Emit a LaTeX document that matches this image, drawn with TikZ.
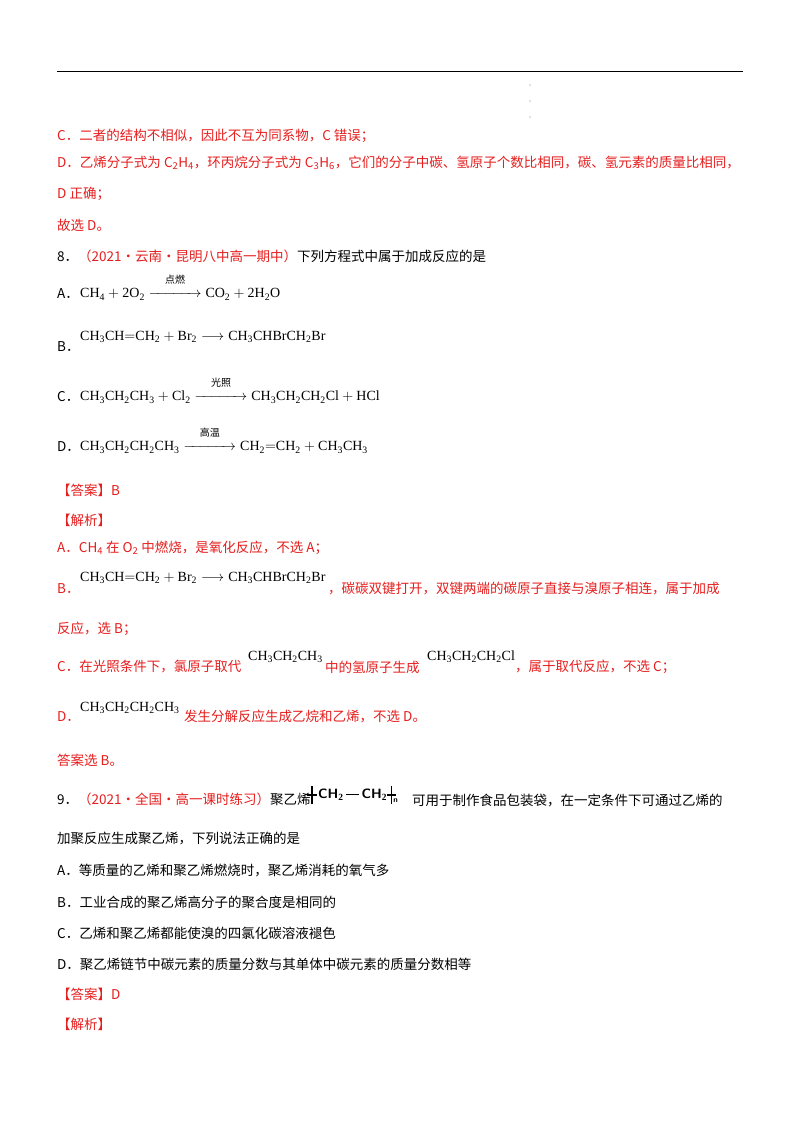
\documentclass[tikz,border=0pt]{standalone}
\usepackage{amsmath}
\usepackage{fontspec}
\setmainfont{Liberation Serif}
\newfontfamily\cjk{Noto Sans CJK SC}
\definecolor{rd}{RGB}{230,30,30}
\newcommand{\ch}[1]{$\mathrm{#1}$}
\newcommand{\arr}[1]{\mathrel{\overset{\text{\cjk\fontsize{10}{10}\selectfont #1}\rule[-3pt]{0pt}{1pt}}{\xrightarrow{\hspace{3.2em}}}}}
\begin{document}
\begin{tikzpicture}[x=1pt,y=-1pt,
  t/.style={anchor=west,inner sep=0pt,font=\cjk\fontsize{13.5}{15}\selectfont},
  r/.style={t,text=rd},
  f/.style={anchor=west,inner sep=0pt,font=\fontsize{14}{16}\selectfont}]
\useasboundingbox[fill=white] (0,0) rectangle (800,1132);
\draw[line width=1pt] (57,72) coordinate (l1) -- (743,72) coordinate (l2);
\foreach \yy in {85,101,117} \fill[gray] (530,\yy) circle (0.6);
\node[r] (c1) at (57,136) {C．二者的结构不相似，因此不互为同系物，C 错误；};
\node[r] (d1) at (57,163) {D．乙烯分子式为 C\textsubscript{2}H\textsubscript{4}，环丙烷分子式为 C\textsubscript{3}H\textsubscript{6}，它们的分子中碳、氢原子个数比相同，碳、氢元素的质量比相同，};
\node[r] (d2) at (57,194) {D 正确；};
\node[r] (g) at (57,225) {故选 D。};
\node[t] (q8) at (57,256) {8．\textcolor{rd}{（2021·云南·昆明八中高一期中）}下列方程式中属于加成反应的是};
\node[t] (a) at (57,294) {A．};
\node[f] (af) at (80,287) {\ch{CH_4+2O_2\arr{点燃}CO_2+2H_2O}};
\node[t] (b) at (57,347) {B．};
\node[f] (bf) at (80,337) {\ch{CH_3CH{=}CH_2+Br_2\longrightarrow CH_3CHBrCH_2Br}};
\node[t] (c) at (57,397) {C．};
\node[f] (cf) at (80,390) {\ch{CH_3CH_2CH_3+Cl_2\arr{光照}CH_3CH_2CH_2Cl+HCl}};
\node[t] (d) at (57,447) {D．};
\node[f] (df) at (80,440) {\ch{CH_3CH_2CH_2CH_3\arr{高温}CH_2{=}CH_2+CH_3CH_3}};
\node[r] (ans) at (57,490) {【答案】B};
\node[r] (jx) at (57,520) {【解析】};
\node[r] (ja) at (57,548) {A．CH\textsubscript{4} 在 O\textsubscript{2} 中燃烧，是氧化反应，不选 A；};
\node[r] (jb) at (57,589) {B．};
\node[f] (jbf) at (80,578) {\ch{CH_3CH{=}CH_2+Br_2\longrightarrow CH_3CHBrCH_2Br}};
\node[r] (jbt) at (328,589) {，碳碳双键打开，双键两端的碳原子直接与溴原子相连，属于加成};
\node[r] (jb2) at (57,629) {反应，选 B；};
\node[r] (jc) at (57,667) {C．在光照条件下，氯原子取代};
\node[f] (jcf1) at (248,657) {\ch{CH_3CH_2CH_3}};
\node[r] (jc2) at (325,667) {中的氢原子生成};
\node[f] (jcf2) at (427,657) {\ch{CH_3CH_2CH_2Cl}};
\node[r] (jc3) at (515,667) {，属于取代反应，不选 C；};
\node[r] (jd) at (57,717) {D．};
\node[f] (jdf) at (80,708) {\ch{CH_3CH_2CH_2CH_3}};
\node[r] (jd2) at (184,716) {发生分解反应生成乙烷和乙烯，不选 D。};
\node[r] (jdd) at (57,760) {答案选 B。};
\node[t] (q9) at (57,799) {9．\textcolor{rd}{（2021·全国·高一课时练习）}聚乙烯};
\node[anchor=west,inner sep=0pt,font=\sffamily\bfseries\fontsize{13.5}{15}\selectfont] (pe) at (318,795) {CH$_{\mathbf 2}$\,\rule[0.3em]{1.0em}{0.9pt}\,CH$_{\mathbf 2}$};
\draw[line width=1.2pt] (312,786) -- (312,804) (307,795) -- ([xshift=-1pt]pe.west);
\draw[line width=1.2pt] ([xshift=4pt]pe.east) coordinate (rb) -- ++(0,-9) -- ++(0,18) (pe.east) -- ++(9,0);
\node[anchor=west,inner sep=0pt,font=\sffamily\bfseries\fontsize{8}{8}\selectfont] (pn) at ([xshift=2pt,yshift=-6pt]rb) {n};
\node[t] (q9b) at (412,800) {可用于制作食品包装袋，在一定条件下可通过乙烯的};
\node[t] (q9c) at (57,838) {加聚反应生成聚乙烯，下列说法正确的是};
\node[t] (oa) at (57,871) {A．等质量的乙烯和聚乙烯燃烧时，聚乙烯消耗的氧气多};
\node[t] (ob) at (57,902) {B．工业合成的聚乙烯高分子的聚合度是相同的};
\node[t] (oc) at (57,933) {C．乙烯和聚乙烯都能使溴的四氯化碳溶液褪色};
\node[t] (od) at (57,964) {D．聚乙烯链节中碳元素的质量分数与其单体中碳元素的质量分数相等};
\node[r] (ans2) at (57,994) {【答案】D};
\node[r] (jx2) at (57,1024) {【解析】};
\end{tikzpicture}
\end{document}
